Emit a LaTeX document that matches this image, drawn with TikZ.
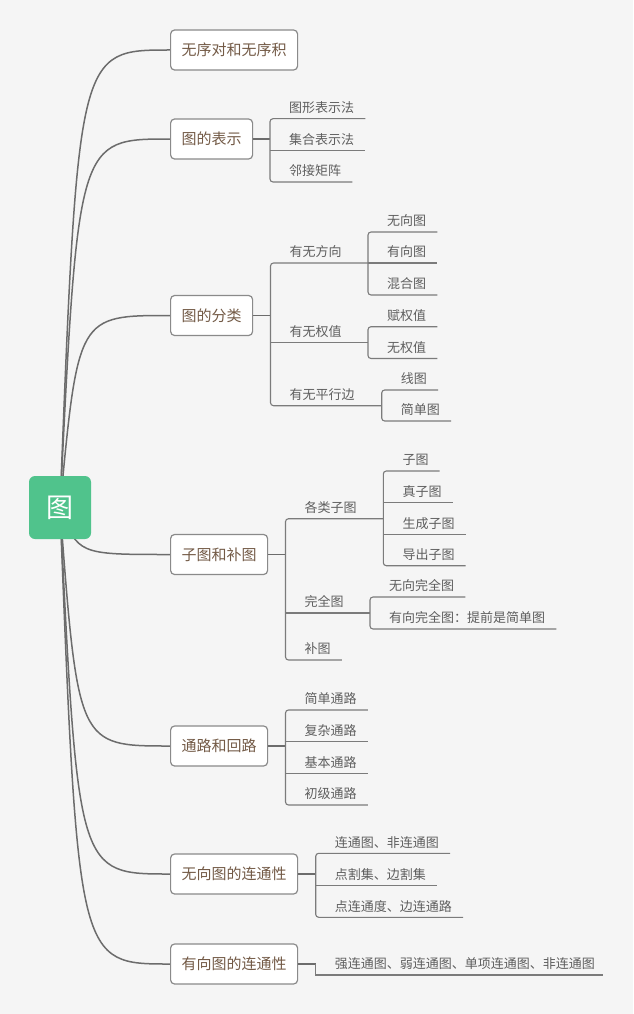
\documentclass[tikz,border=0pt]{standalone}
\usepackage{fontspec}
\setmainfont{Noto Sans CJK SC}
\usetikzlibrary{backgrounds,positioning}
\definecolor{bgcol}{HTML}{F5F5F5}
\definecolor{rootcol}{HTML}{50C38C}
\definecolor{linecol}{HTML}{6C6C6C}
\definecolor{boxcol}{HTML}{8A8A8A}
\definecolor{maincol}{HTML}{735A46}
\definecolor{leafcol}{HTML}{5E5E5E}

\begin{document}
\begin{tikzpicture}[x=1pt,y=-1pt,
    root/.style={fill=rootcol,text=white,rounded corners=6pt,minimum width=62pt,minimum height=63pt,font=\fontsize{27}{27}\selectfont},
    box/.style={draw=boxcol,fill=white,line width=1.2pt,rounded corners=4pt,anchor=west,minimum height=40pt,inner xsep=11pt,text=maincol,font=\fontsize{15}{15}\selectfont},
    leaf/.style={anchor=south west,inner xsep=11pt,inner ysep=0pt,minimum height=22pt,text=leafcol,font=\fontsize{13}{13}\selectfont},
    curve/.style={draw=linecol,line width=1.5pt},
    stem/.style={draw=linecol,line width=1.8pt},
    rule/.style={draw=linecol!90,line width=1.1pt,rounded corners=3pt}]

\useasboundingbox (0,0) rectangle (633,1014);

% root and main topics
\node[root] (g) at (60,507.5) {图};
\coordinate (gx) at ([xshift=18pt]g.center);
\node[box] (b1) at (170,50) {无序对和无序积};
\node[box] (b2) at (170,139) {图的表示};
\node[box] (b3) at (170,315.5) {图的分类};
\node[box] (b4) at (170,554.5) {子图和补图};
\node[box] (b5) at (170,746) {通路和回路};
\node[box] (b6) at (170,874) {无向图的连通性};
\node[box] (b7) at (170,964) {有向图的连通性};

\begin{scope}[on background layer]
  \fill[bgcol] (0,0) rectangle (633,1014);
  \foreach \b in {b1,b2,b3,b4,b5,b6,b7}
    \draw[curve] (g.center) .. controls (gx |- \b.west) .. (\b.west);
\end{scope}

% junctions
\coordinate (j2) at (270,139);
\coordinate (j3) at (270.5,315.5);
\coordinate (j4) at (285.5,554.5);
\coordinate (j5) at (285.5,746);
\coordinate (j6) at (315.7,874);
\coordinate (j7) at (315.7,964);
\foreach \i in {2,...,7}
  \draw[stem] (b\i.east) -- (j\i);

% 图的表示
\node[leaf] (b2a) at (278,118.7) {图形表示法};
\node[leaf] (b2b) at (278,150.7) {集合表示法};
\node[leaf] (b2c) at (278,182) {邻接矩阵};
\draw[rule] (b2a.south east) -| (j2 |- b2c.south) -- (b2c.south east);
\draw[rule] (j2 |- b2b.south) -- (b2b.south east);

% 图的分类
\node[leaf] (b3a) at (278.5,263) {有无方向};
\node[leaf] (b3b) at (278.5,342.7) {有无权值};
\node[leaf] (b3c) at (278.5,405.7) {有无平行边};
\coordinate (k3a) at (368,263);
\coordinate (k3b) at (368,342.7);
\coordinate (k3c) at (381.7,405.7);
\draw[rule] (k3a) -| (j3 |- k3c) -- (k3c);
\draw[rule] (j3 |- k3b) -- (k3b);

\node[leaf] (c1) at (376,232) {无向图};
\node[leaf] (c2) at (376,263) {有向图};
\node[leaf] (c3) at (376,295) {混合图};
\draw[rule] (c1.south east) -| (k3a |- c3.south) -- (c3.south east);
\draw[rule] (k3a) -- (c2.south east);

\node[leaf] (c4) at (376,326.7) {赋权值};
\node[leaf] (c5) at (376,358.5) {无权值};
\draw[rule] (c4.south east) -| (k3b |- c5.south) -- (c5.south east);

\node[leaf] (c6) at (389.7,390) {线图};
\node[leaf] (c7) at (389.7,421) {简单图};
\draw[rule] (c6.south east) -| (k3c |- c7.south) -- (c7.south east);

% 子图和补图
\node[leaf] (b4a) at (293.5,518.7) {各类子图};
\node[leaf] (b4b) at (293.5,613) {完全图};
\node[leaf] (b4c) at (293.5,660) {补图};
\coordinate (k4a) at (383.3,518.7);
\coordinate (k4b) at (370,613);
\draw[rule] (k4a) -| (j4 |- b4c.south) -- (b4c.south east);
\draw[rule] (j4 |- k4b) -- (k4b);

\node[leaf] (d1) at (391.3,471) {子图};
\node[leaf] (d2) at (391.3,502.3) {真子图};
\node[leaf] (d3) at (391.3,534.3) {生成子图};
\node[leaf] (d4) at (391.3,565.7) {导出子图};
\draw[rule] (d1.south east) -| (k4a |- d4.south) -- (d4.south east);
\draw[rule] (k4a |- d2.south) -- (d2.south east);
\draw[rule] (k4a |- d3.south) -- (d3.south east);

\node[leaf] (d5) at (378,597) {无向完全图};
\node[leaf] (d6) at (378,629) {有向完全图：提前是简单图};
\draw[rule] (d5.south east) -| (k4b |- d6.south) -- (d6.south east);

% 通路和回路
\node[leaf] (b5a) at (293.5,710) {简单通路};
\node[leaf] (b5b) at (293.5,741.7) {复杂通路};
\node[leaf] (b5c) at (293.5,773.3) {基本通路};
\node[leaf] (b5d) at (293.5,805) {初级通路};
\draw[rule] (b5a.south east) -| (j5 |- b5d.south) -- (b5d.south east);
\draw[rule] (j5 |- b5b.south) -- (b5b.south east);
\draw[rule] (j5 |- b5c.south) -- (b5c.south east);

% 连通性
\node[leaf] (b6a) at (323.7,853.3) {连通图、非连通图};
\node[leaf] (b6b) at (323.7,885.7) {点割集、边割集};
\node[leaf] (b6c) at (323.7,917.3) {点连通度、边连通路};
\draw[rule] (b6a.south east) -| (j6 |- b6c.south) -- (b6c.south east);
\draw[rule] (j6 |- b6b.south) -- (b6b.south east);

\node[leaf] (b7a) at (323.7,975) {强连通图、弱连通图、单项连通图、非连通图};
\draw[rule,rounded corners=0pt] (j7) |- ([xshift=-3pt]b7a.south east);
\end{tikzpicture}
\end{document}
